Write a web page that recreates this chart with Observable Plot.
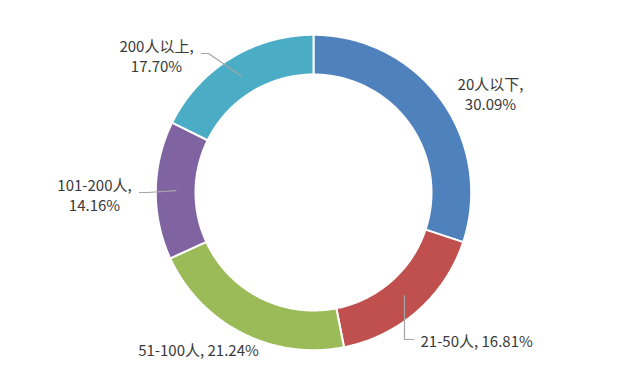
<!DOCTYPE html>
<html><head><meta charset="utf-8">
<script src="https://cdn.jsdelivr.net/npm/d3@7"></script>
<script src="https://cdn.jsdelivr.net/npm/@observablehq/plot@0.6"></script>
<style>html,body{margin:0;padding:0;background:#fff} svg{display:block}</style>
</head><body><div id="chart"></div>
<script>
// ---- data ----
const categories = ["20人以下", "21-50人", "51-100人", "101-200人", "200人以上"];
const shares = [30.09, 16.81, 21.24, 14.16, 17.70];
const labelTexts = ["20人以下,\n30.09%", "21-50人, 16.81%", "51-100人, 21.24%", "101-200人,\n14.16%", "200人以上,\n17.70%"];
const colors = ["#4F81BD", "#C0504D", "#9BBB59", "#8064A2", "#4BACC6"];

// ---- layout ----
const W = 638, H = 379, CX = 313, CY = 192;
const R_IN = 118, R_OUT = 157.7, R_MID = 137.5;
// label placement relative to the chart centre (pixels, dy downward)
const labelLayout = [
  {dx: 177, dy: -99, anchor: "middle", leader: null},
  {dx: 107, dy: 148, anchor: "start", leader: {dx: 100, dy: 147, elbow: -9}},
  {dx: -115, dy: 157, anchor: "middle", leader: null},
  {dx: -219, dy: 2, anchor: "middle", leader: {dx: -174, dy: 0, elbow: 8}},
  {dx: -157, dy: -137, anchor: "middle", leader: {dx: -112, dy: -139, elbow: 7}}
];

const pie = d3.pie().sort(null).value(d => d)(shares);
const polar = (r, a) => ({x: r * Math.sin(a), y: r * Math.cos(a)});

// slice outlines
const slices = [];
pie.forEach((p, i) => {
  const n = Math.max(8, Math.ceil((p.endAngle - p.startAngle) / (Math.PI / 360)));
  for (let k = 0; k <= n; k++) {
    const a = p.startAngle + (p.endAngle - p.startAngle) * k / n;
    slices.push({cat: categories[i], ...polar(R_OUT, a)});
  }
  for (let k = n; k >= 0; k--) {
    const a = p.startAngle + (p.endAngle - p.startAngle) * k / n;
    slices.push({cat: categories[i], ...polar(R_IN, a)});
  }
});

// labels
const labels = pie.map((p, i) => ({
  cat: categories[i], text: labelTexts[i], anchor: labelLayout[i].anchor,
  x: labelLayout[i].dx, y: -labelLayout[i].dy
}));

// leader lines
const leaders = [];
pie.forEach((p, i) => {
  const L = labelLayout[i].leader;
  if (!L) return;
  const mid = (p.startAngle + p.endAngle) / 2;
  const s = polar(R_MID, mid);
  leaders.push({cat: categories[i], x: s.x, y: s.y});
  leaders.push({cat: categories[i], x: L.dx + L.elbow, y: -L.dy});
  leaders.push({cat: categories[i], x: L.dx, y: -L.dy});
});

const font = "'Noto Sans CJK SC', 'Noto Sans', sans-serif";
const textOpts = a => ({
  x: "x", y: "y", text: "text", textAnchor: a, lineAnchor: "middle",
  lineHeight: 1.33, fontSize: 15, fill: "#3a3a3a", fontFamily: font
});

const chart = Plot.plot({
  width: W, height: H,
  margin: 0,
  x: {domain: [-CX, W - CX], axis: null},
  y: {domain: [-(H - CY), CY], axis: null},
  color: {domain: categories, range: colors},
  style: {fontFamily: font, background: "#fff"},
  marks: [
    Plot.line(slices, {x: "x", y: "y", z: "cat", fill: "cat", stroke: "#fff", strokeWidth: 2, curve: "linear-closed"}),
    Plot.line(leaders, {x: "x", y: "y", z: "cat", stroke: "#A6A6A6", strokeWidth: 1.2}),
    Plot.text(labels.filter(d => d.anchor === "middle"), textOpts("middle")),
    Plot.text(labels.filter(d => d.anchor === "start"), textOpts("start"))
  ]
});
document.getElementById("chart").appendChild(chart);
</script>
</body></html>
